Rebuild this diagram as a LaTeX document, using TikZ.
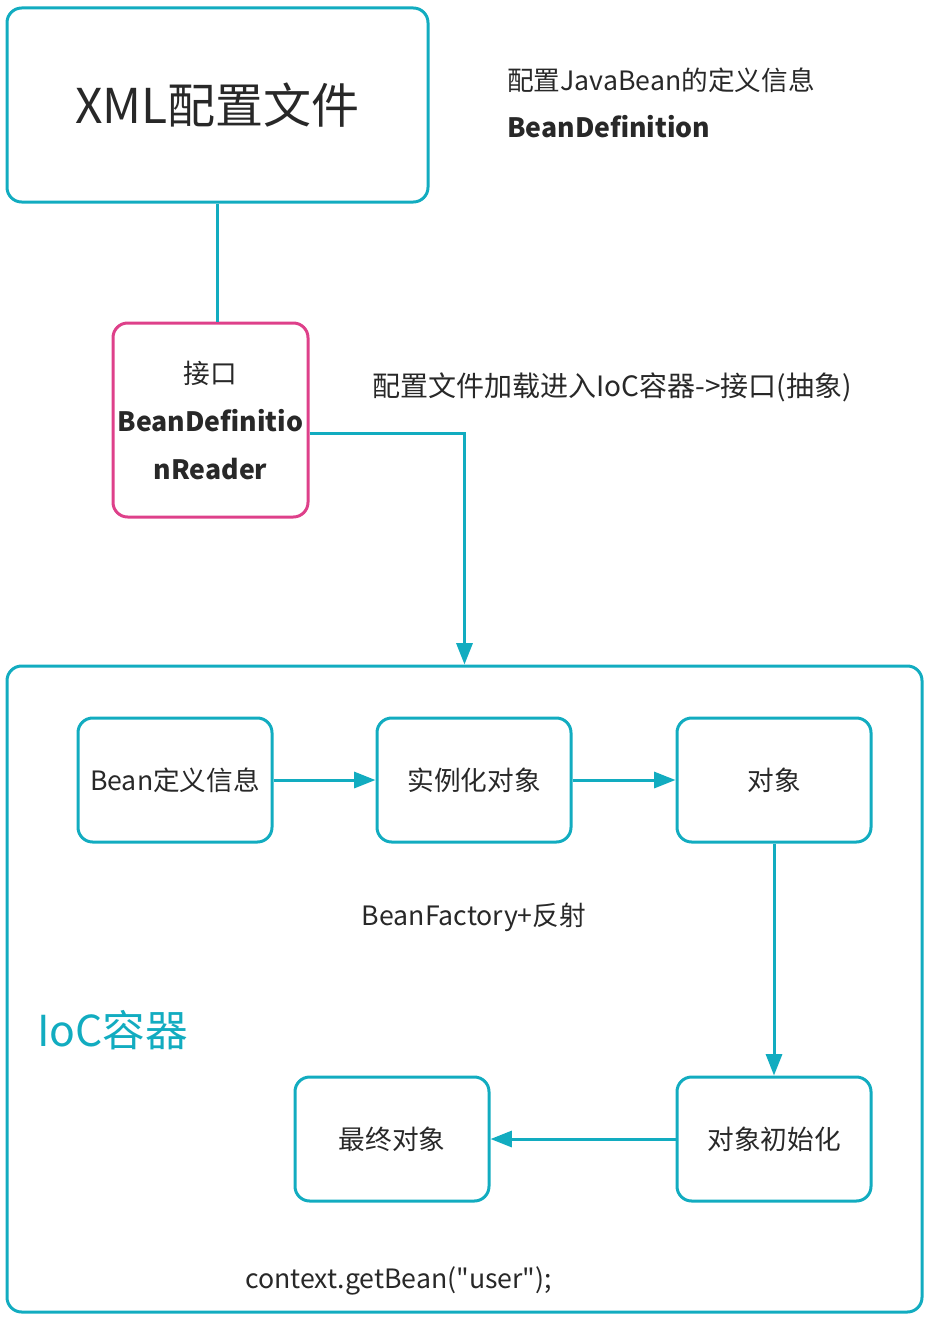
\documentclass[tikz,border=0pt]{standalone}
\usepackage{fontspec}
\setmainfont{Noto Sans CJK SC}[Ligatures=TeXOff]
\usetikzlibrary{arrows.meta,positioning}
\definecolor{iocteal}{RGB}{18,172,192}
\definecolor{readerpink}{RGB}{222,64,138}
\definecolor{textgray}{RGB}{40,40,40}

\begin{document}
\begin{tikzpicture}[x=0.75pt,y=-0.75pt,
  box/.style={draw=iocteal,line width=2.25pt,rounded corners=11pt,align=center,
              text=textgray,font=\fontsize{20}{24}\selectfont,inner sep=2pt,
              minimum width=145.5pt,minimum height=93pt},
  note/.style={text=textgray,font=\fontsize{20}{24}\selectfont,inner sep=0pt},
  ar/.style={-{Triangle[length=16pt,width=12pt]},draw=iocteal,line width=2.25pt}]
\useasboundingbox (0,0) rectangle (934,1320);
% outer parts
\node[box,minimum width=315.75pt,minimum height=145.5pt,
      font=\fontsize{36}{42}\selectfont] (xml) at (217.5,105) {XML配置文件};
\node[box,draw=readerpink,minimum width=146.25pt,minimum height=145.5pt,
      font=\fontsize{20}{36}\selectfont] (reader) at (210.5,420)
      {接口\\ \textbf{BeanDefinitio}\\ \textbf{nReader}};
\node[box,minimum width=686.25pt,minimum height=484.5pt] (ioc) at (464.5,989) {};
% notes
\node[note,anchor=west] (def) at (507,80) {配置JavaBean的定义信息};
\node[note,anchor=west,font=\fontsize{20}{24}\selectfont\bfseries] (defname) at (507,127) {BeanDefinition};
\node[note,anchor=west,font=\fontsize{21}{24}\selectfont] (load) at (372,387) {配置文件加载进入IoC容器->接口(抽象)};
% inside the container
\node[box] (info) at (175,780) {Bean定义信息};
\node[box] (inst) at (474,780) {实例化对象};
\node[box] (obj) at (774,780) {对象};
\node[box] (init) at (774,1139) {对象初始化};
\node[box] (final) at (392,1139) {最终对象};
\node[note] (factory) at (474,917) {BeanFactory+反射};
\node[note,anchor=west,text=iocteal,font=\fontsize{32}{38}\selectfont] (ioclabel) at (37,1030) {IoC容器};
\node[note,anchor=west] (getbean) at (245,1281) {context.getBean("user");};
% connectors
\draw[draw=iocteal,line width=2.25pt] (xml.south) -- (xml.south |- reader.north);
\draw[ar] ([yshift=-9.75pt]reader.east) -| (ioc.north);
\draw[ar] (info) -- (inst);
\draw[ar] (inst) -- (obj);
\draw[ar] (obj) -- (init);
\draw[ar] (init) -- (final);
\end{tikzpicture}
\end{document}
